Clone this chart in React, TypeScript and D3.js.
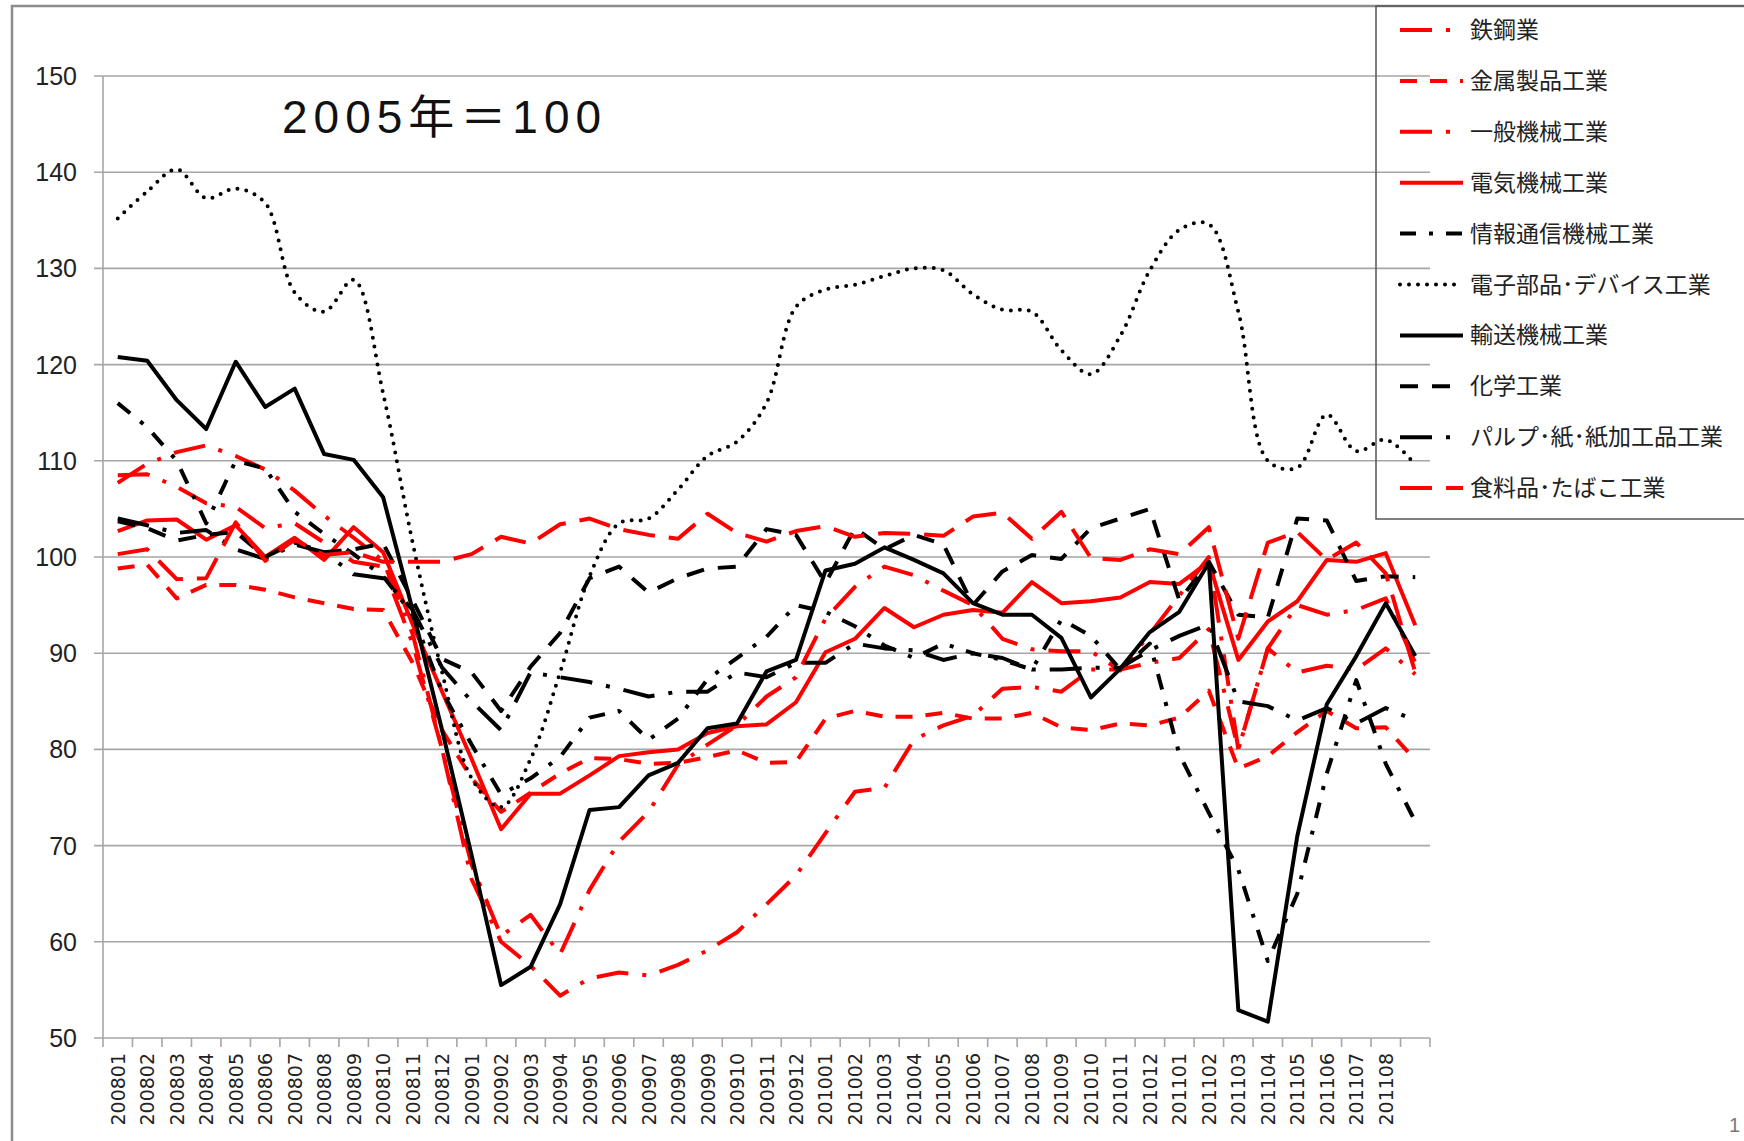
import React from 'react';
import * as d3 from 'd3';

// categories (yyyymm), last month has no label on the axis
const months = [
  '200801', '200802', '200803', '200804', '200805', '200806', '200807', '200808', '200809', '200810', '200811', '200812',
  '200901', '200902', '200903', '200904', '200905', '200906', '200907', '200908', '200909', '200910', '200911', '200912',
  '201001', '201002', '201003', '201004', '201005', '201006', '201007', '201008', '201009', '201010', '201011', '201012',
  '201101', '201102', '201103', '201104', '201105', '201106', '201107', '201108', '201109',
];
const tickLabels = months.slice(0, 44);

// index values, 2005 = 100
const tekkou = [108.5, 108.6, 107.3, 105.6, 105.2, 103, 103.5, 101.5, 99.5, 99, 91, 80, 68, 60.6, 62.8, 58.7, 65.4, 70.4, 73.5, 78.4, 80.5, 82.5, 85.5, 87.5, 93.6, 96.9, 99, 98.1, 96.5, 95, 91.5, 90.4, 90.2, 90.2, 88.2, 92, 96, 100, 80, 90.5, 95, 94, 94.5, 95.7, 89];
const kinzoku = [98.8, 99.2, 95.7, 97.1, 97.1, 96.6, 95.8, 95.2, 94.6, 94.5, 89, 82, 77, 73.5, 75.5, 77.5, 79.1, 79, 78.5, 78.6, 79.2, 79.9, 78.6, 78.7, 83.2, 84, 83.4, 83.4, 83.8, 83.2, 83.2, 83.8, 82.3, 82, 82.7, 82.5, 83.3, 86.1, 78, 79.3, 81.8, 84, 82.2, 82.3, 78.9];
const ippan = [107.7, 109.7, 110.9, 111.6, 110.5, 109.1, 106.9, 104.3, 102, 99.6, 92, 80, 66.5, 60, 57.5, 54.4, 56.2, 56.8, 56.5, 57.6, 59.1, 61, 63.9, 66.9, 71.3, 75.6, 76, 81, 82.5, 83.5, 86.3, 86.5, 86, 88.3, 88.3, 89, 89.5, 92.5, 80, 90.5, 88, 88.7, 88.3, 90.5, 87.8];
const denki = [102.7, 103.8, 103.9, 101.8, 103.3, 100, 102, 99.7, 103.1, 100.5, 93, 86, 79, 71.7, 75.4, 75.4, 77.3, 79.3, 79.7, 80, 81.7, 82.4, 82.6, 84.9, 90.1, 91.5, 94.7, 92.7, 94, 94.5, 94.2, 97.4, 95.2, 95.4, 95.8, 97.4, 97.2, 99.5, 89.3, 93.3, 95.4, 99.7, 99.5, 100.4, 92.9];
const jouhou = [116, 113.5, 110, 103.5, 110, 109.2, 104.7, 102.4, 100.3, 98, 94, 86, 80.5, 75.3, 77, 79.2, 83.3, 84, 81, 83.2, 87.3, 89.5, 91.7, 95, 94.3, 92.8, 90.8, 89.5, 91, 90, 89.3, 88.3, 93.5, 91.8, 88.3, 91, 79.5, 73.4, 67.5, 58, 65, 77.5, 87.2, 78.5, 72.5];
const denshi = [135.2, 138, 140.3, 137.3, 138.3, 136.8, 127.5, 125.5, 128.8, 117, 101.5, 88, 77, 74, 79, 88, 98, 103.5, 104, 107, 110.5, 112, 116, 126, 127.8, 128.3, 129.2, 130, 129.8, 127.3, 125.7, 125.5, 121.5, 119, 123, 129.8, 134, 134.6, 125.5, 110, 109.3, 114.8, 111, 112.2, 109.6];
const yusou = [120.8, 120.4, 116.3, 113.3, 120.3, 115.6, 117.5, 110.7, 110.1, 106.2, 94.5, 82, 69, 55.5, 57.4, 63.9, 73.7, 74, 77.3, 78.6, 82.2, 82.7, 88.1, 89.3, 98.6, 99.3, 101, 99.7, 98.3, 95.2, 94, 94, 91.6, 85.4, 88.4, 92.2, 94.3, 99.4, 52.9, 51.7, 71, 84.7, 89.7, 95.2, 89.7];
const kagaku = [103.7, 103, 101.7, 102.3, 102.6, 100, 101.5, 100.5, 100.8, 101.4, 95.5, 89.4, 88, 84, 88.6, 92.1, 97.8, 99, 96.3, 97.8, 98.8, 99, 102.9, 102.3, 97.3, 103, 100.8, 102.3, 101.3, 95, 98.5, 100.2, 99.8, 103, 104, 105, 95.5, 99.5, 94, 93.7, 104, 103.8, 97.5, 98, 97.9];
const pulp = [104, 103.3, 102.5, 102.8, 100.8, 99.8, 101.3, 100.5, 98.2, 97.8, 94.5, 88.5, 85, 82, 88, 87.5, 87, 86.3, 85.5, 86, 86, 88, 87.5, 89, 89, 91, 90.5, 90.3, 89.3, 90, 89.5, 88.3, 88.3, 88.5, 88.5, 90.3, 91.8, 93, 85, 84.5, 83, 84.3, 82.7, 84.3, 83];
const shokuryo = [100.3, 100.8, 97.7, 97.8, 103.6, 99.6, 101.8, 100.2, 100.5, 99.5, 99.5, 99.5, 100.3, 102.1, 101.4, 103.4, 104, 102.9, 102.3, 101.9, 104.5, 102.5, 101.6, 102.7, 103.2, 102.1, 102.5, 102.4, 102.2, 104.2, 104.6, 101.9, 104.7, 99.9, 99.7, 100.8, 100.3, 103.1, 91.5, 101.5, 102.6, 99.7, 101.5, 98.3, 88];

const seriesNames = [
  '鉄鋼業', '金属製品工業', '一般機械工業', '電気機械工業', '情報通信機械工業',
  '電子部品･デバイス工業', '輸送機械工業', '化学工業', 'パルプ･紙･紙加工品工業', '食料品･たばこ工業',
];
const seriesValues = [tekkou, kinzoku, ippan, denki, jouhou, denshi, yusou, kagaku, pulp, shokuryo];
const RED = '#ff0000';
const BLACK = '#000000';
const seriesColors = [RED, RED, RED, RED, BLACK, BLACK, BLACK, BLACK, BLACK, RED];
const seriesDash = ['32,14,4,14', '17,13', '32,14,4,14', '', '16,13,4,13', '0,9', '', '18,14', '32,14,4,14', '32,14'];

const W = 1744;
const H = 1141;
const plot = { left: 103, right: 1430, top: 76, bottom: 1038 };
const gridColor = '#a6a6a6';

export default function App() {
  const x = d3.scaleBand<string>().domain(months).range([plot.left, plot.right]);
  const y = d3.scaleLinear().domain([50, 150]).range([plot.bottom, plot.top]);
  const cx = (m: string) => (x(m) as number) + x.bandwidth() / 2;

  const line = d3.line<number>()
    .x((_, i) => cx(months[i]))
    .y(d => y(d));

  const smooth = d3.line<number>()
    .x((_, i) => cx(months[i]))
    .y(d => y(d))
    .curve(d3.curveCatmullRom.alpha(0.5));

  const legendX = 1376;
  const legendRowY = (i: number) => 30 + i * 50.9;

  return (
    <svg width={W} height={H} style={{ position: 'absolute', left: 0, top: 0, background: '#fff' }}
      fontFamily="'Liberation Sans', 'Noto Sans CJK JP', sans-serif">
      {/* outer frame */}
      <rect x={12} y={6} width={W} height={H} fill="#fff" stroke="#8c8c8c" strokeWidth={2.5} />

      {/* horizontal gridlines + y ticks */}
      {y.ticks(10).map(t => (
        <g key={t}>
          <line x1={plot.left - 9} x2={plot.right} y1={y(t)} y2={y(t)} stroke={gridColor} strokeWidth={1.6} />
          <text x={77} y={y(t) + 9} textAnchor="end" fontSize={25} fill="#222">{t}</text>
        </g>
      ))}
      {/* y axis */}
      <line x1={plot.left} x2={plot.left} y1={plot.top} y2={plot.bottom} stroke={gridColor} strokeWidth={1.6} />

      {/* x axis ticks at band edges */}
      {months.map(m => (
        <line key={'t' + m} x1={x(m)} x2={x(m)} y1={plot.bottom} y2={plot.bottom + 9} stroke={gridColor} strokeWidth={1.6} />
      ))}
      <line x1={plot.right} x2={plot.right} y1={plot.bottom} y2={plot.bottom + 9} stroke={gridColor} strokeWidth={1.6} />
      {tickLabels.map(m => (
        <text key={'l' + m} transform={`translate(${cx(m) + 7},${plot.bottom + 15}) rotate(-90)`}
          textAnchor="end" fontFamily="'DejaVu Sans', sans-serif" fontSize={19} fill="#222">{m}</text>
      ))}

      {/* legend (transparent box, grid shows through) */}
      <rect x={legendX} y={6} width={W} height={513} fill="none" stroke="#555" strokeWidth={1.5} />
      {seriesNames.map((name, k) => (
        <g key={'lg' + name}>
          <line x1={legendX + 24} x2={legendX + 87} y1={legendRowY(k)} y2={legendRowY(k)}
            stroke={seriesColors[k]} strokeWidth={4}
            strokeDasharray={seriesDash[k] || undefined}
            strokeLinecap={k === 5 ? 'round' : 'butt'} />
          <text x={legendX + 94} y={legendRowY(k) + 8} fontSize={23}
            fontFamily="'Noto Sans CJK JP', sans-serif" fill="#222">{name}</text>
        </g>
      ))}

      {/* series */}
      {seriesValues.map((vals, k) => (
        <path key={seriesNames[k]}
          d={(k === 5 ? smooth : line)(vals) as string}
          fill="none"
          stroke={seriesColors[k]}
          strokeWidth={4}
          strokeDasharray={seriesDash[k] || undefined}
          strokeLinecap={k === 5 ? 'round' : 'butt'}
          strokeLinejoin="round" />
      ))}

      {/* base note */}
      <text x={282} y={133} fontSize={46} letterSpacing={6} fill="#111">2005年＝100</text>

      {/* page number at the edge */}
      <text x={1729} y={1132} fontSize={20} fill="#777">1</text>
    </svg>
  );
}
